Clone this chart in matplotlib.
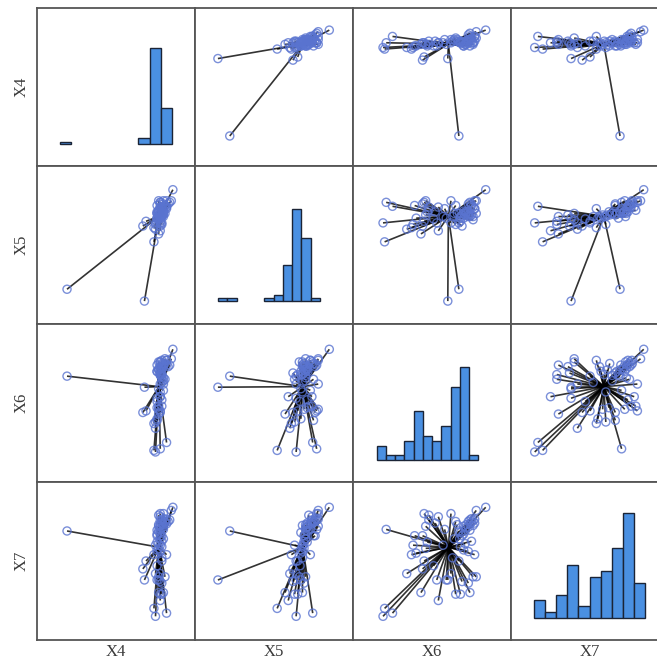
import numpy as np
import matplotlib
matplotlib.use("Agg")
import matplotlib.pyplot as plt
from matplotlib.collections import LineCollection

# ---- data (70 observations, 4 variables) ----
names = ["X4", "X5", "X6", "X7"]
X4 = [0.19, 0.68, 0.74, 0.75, 0.82, 0.78,
      0.77, 0.78, 0.80, 0.75, 0.74, 0.76, 0.75, 0.77, 0.78, 0.79, 0.78, 0.80,
      0.81, 0.76, 0.77, 0.82, 0.79, 0.86,
      0.76, 0.67, 0.69, 0.77, 0.76, 0.78, 0.77, 0.79, 0.78, 0.76, 0.79, 0.78,
      0.80, 0.78, 0.79, 0.80, 0.81, 0.80,
      0.78, 0.79, 0.76, 0.79, 0.77, 0.78, 0.79, 0.76, 0.78, 0.77, 0.79, 0.78, 0.77,
      0.77, 0.78, 0.79, 0.76, 0.80, 0.78, 0.82, 0.79, 0.81, 0.83, 0.78, 0.84,
      0.82, 0.80, 0.85]
X5 = [0.22, 0.145, 0.52, 0.64, 0.745, 0.77,
      0.72, 0.74, 0.70, 0.63, 0.61, 0.67, 0.60, 0.57, 0.59, 0.63, 0.65, 0.68,
      0.70, 0.64, 0.67, 0.73, 0.69, 0.85,
      0.75, 0.62, 0.65, 0.69, 0.71, 0.76, 0.78, 0.74, 0.77, 0.665, 0.71, 0.68,
      0.73, 0.64, 0.68, 0.70, 0.75, 0.78,
      0.62, 0.64, 0.67, 0.68, 0.69, 0.70, 0.69, 0.70, 0.67, 0.71, 0.70, 0.715, 0.71,
      0.66, 0.68, 0.69, 0.70, 0.71, 0.68, 0.74, 0.73, 0.75, 0.76, 0.74, 0.77,
      0.78, 0.76, 0.78]
X6 = [0.67, 0.60, 0.20, 0.19, 0.25, 0.21,
      0.48, 0.54, 0.66, 0.38, 0.37, 0.40, 0.34, 0.43, 0.54, 0.65, 0.68, 0.74,
      0.78, 0.53, 0.59, 0.77, 0.73, 0.84,
      0.39, 0.44, 0.45, 0.46, 0.47, 0.44, 0.46, 0.48, 0.45, 0.51, 0.52, 0.57,
      0.58, 0.62, 0.63, 0.64, 0.65, 0.62,
      0.69, 0.67, 0.70, 0.68, 0.71, 0.675, 0.69, 0.70, 0.68, 0.71, 0.715, 0.70, 0.718,
      0.76, 0.73, 0.75, 0.74, 0.73, 0.76, 0.74, 0.77, 0.75, 0.73, 0.76, 0.74,
      0.77, 0.75, 0.78]
X7 = [0.69, 0.38, 0.20, 0.15, 0.17, 0.70,
      0.79, 0.78, 0.73, 0.60, 0.54, 0.55, 0.42, 0.30, 0.25, 0.29, 0.29, 0.30,
      0.40, 0.38, 0.38, 0.54, 0.36, 0.84,
      0.66, 0.45, 0.50, 0.58, 0.62, 0.66, 0.72, 0.76, 0.80, 0.47, 0.74, 0.60,
      0.70, 0.42, 0.52, 0.64, 0.75, 0.80,
      0.37, 0.50, 0.57, 0.59, 0.61, 0.64, 0.66, 0.67, 0.68, 0.69, 0.71, 0.72, 0.73,
      0.40, 0.56, 0.625, 0.695, 0.715, 0.725, 0.735, 0.74, 0.745, 0.75, 0.755, 0.76,
      0.765, 0.768, 0.82]
variables = [np.array(v) for v in (X4, X5, X6, X7)]

# ---- histogram styling per variable ----
hist_bins = [10, 11, 11, 10]
hist_span = [(0.146, 0.854), (0.146, 0.79), (0.151, 0.792), (0.146, 0.848)]
hist_base = [0.14, 0.146, 0.138, 0.139]
hist_top = [0.75, 0.73, 0.725, 0.806]

# ---- layout (pixels) ----
W, H = 657, 662
left0, top0, cell = 37, 8, 158
spine_col = "#555555"
label_font = dict(family="Liberation Serif", size=12, color="#3a3a3a")

fig = plt.figure(figsize=(W / 100, H / 100), dpi=100)

for i in range(4):
    for j in range(4):
        ax = fig.add_axes([(left0 + cell * j) / W,
                           1 - (top0 + cell * (i + 1)) / H,
                           cell / W, cell / H])
        ax.set_xticks([])
        ax.set_yticks([])
        for s in ax.spines.values():
            s.set_color(spine_col)
            s.set_linewidth(1.3)
        if i == j:
            v = variables[i]
            vmin, vmax = v.min(), v.max()
            edges = np.linspace(vmin, vmax, hist_bins[i] + 1)
            counts, _ = np.histogram(v, bins=edges)
            lo_f, hi_f = hist_span[i]
            scale = (vmax - vmin) / (hi_f - lo_f)
            ax.set_xlim(vmin - lo_f * scale, vmin + (1 - lo_f) * scale)
            nz = counts > 0
            ax.bar(edges[:-1][nz], counts[nz], width=np.diff(edges)[nz],
                   align="edge", color="#4a90e2", edgecolor="#1b2436",
                   linewidth=1.0)
            cmax = counts.max()
            yscale = cmax / (hist_top[i] - hist_base[i])
            ylo = -hist_base[i] * yscale
            ax.set_ylim(ylo, ylo + yscale)
        else:
            x = variables[j]
            y = variables[i]
            mx, my = x.mean(), y.mean()
            segs = [[(xx, yy), (mx, my)] for xx, yy in zip(x, y)]
            lc = LineCollection(segs, colors="#000000", linewidths=1.2,
                                alpha=0.8, zorder=1)
            ax.add_collection(lc)
            ax.scatter(x, y, s=34, facecolors="none", edgecolors="#5a74d0",
                       linewidths=1.0, alpha=0.8, zorder=2)
            ax.set_xlim(0, 1)
            ax.set_ylim(0, 1)

# axis labels
for k, nm in enumerate(names):
    fig.text(22 / W, 1 - (top0 + cell * k + cell / 2) / H, nm,
             rotation=90, ha="center", va="center", **label_font)
    fig.text((left0 + cell * k + cell / 2) / W, 1 - 652 / H, nm,
             ha="center", va="center", **label_font)

fig.savefig("out.png", dpi=100)
